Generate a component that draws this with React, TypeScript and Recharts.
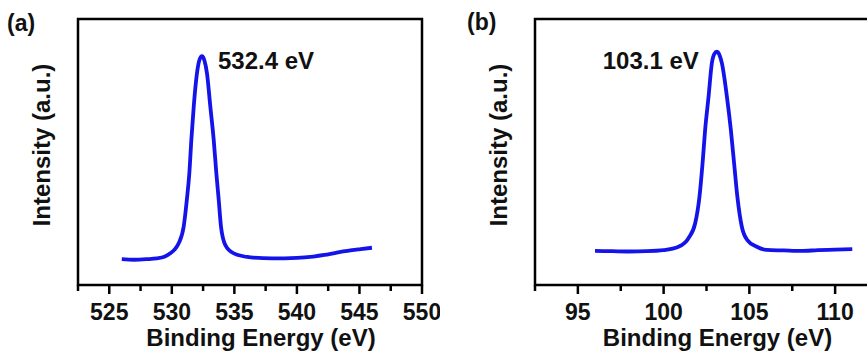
import React from "react";
import {
  LineChart,
  Line,
  XAxis,
  YAxis,
  ReferenceArea,
  ReferenceDot,
  Label,
} from "recharts";

const FONT = "Arial, 'Liberation Sans', sans-serif";
const INK = "#111";
const BLUE = "#1414ea";

// (a) O 1s region
const o1sEnergy = [
  526, 527, 528, 528.8, 529.4, 529.88, 530.25, 530.55, 530.95, 531.2, 531.4,
  531.56, 531.75, 532.01, 532.2, 532.41, 532.6, 532.81, 533.08, 533.35, 533.56,
  533.75, 533.93, 534.28, 534.95, 536.3, 538, 540, 541.3, 542.2, 542.9, 543.7,
  544.4, 545.1, 546,
];
const o1sIntensity = [
  0.097, 0.095, 0.097, 0.1, 0.106, 0.119, 0.135, 0.157, 0.22, 0.32, 0.42,
  0.545, 0.67, 0.796, 0.845, 0.86, 0.845, 0.796, 0.67, 0.545, 0.42,
  0.32, 0.22, 0.15, 0.119, 0.104, 0.1, 0.102, 0.107, 0.113, 0.119, 0.126,
  0.131, 0.135, 0.14,
];
const o1sTicks = [522.5, 525, 527.5, 530, 532.5, 535, 537.5, 540, 542.5, 545, 547.5, 550];

// (b) Si 2p region
const si2pEnergy = [
  96, 97, 98, 99, 100, 100.87, 101.45, 101.84, 102.09, 102.27, 102.42, 102.62,
  102.81, 102.95, 103.1, 103.25, 103.4, 103.69, 103.92, 104.11, 104.3, 104.56,
  104.88, 105.43, 106, 107, 108, 109, 110, 111,
];
const si2pIntensity = [
  0.128, 0.127, 0.126, 0.127, 0.131, 0.144, 0.176, 0.232, 0.332, 0.457, 0.583,
  0.708, 0.833, 0.868, 0.877, 0.866, 0.833, 0.708, 0.583, 0.457, 0.332, 0.219,
  0.169, 0.144, 0.132, 0.13, 0.128, 0.131, 0.133, 0.135,
];
const si2pTicks = [92.5, 95, 97.5, 100, 102.5, 105, 107.5, 110, 112.5];

const toRows = (e: number[], y: number[]) =>
  e.map((energy, i) => ({ energy, intensity: y[i] }));

function EnergyTick(props: any) {
  const { x, y, payload } = props;
  const v = payload.value;
  const major = v % 5 === 0;
  return (
    <g>
      <line x1={x} y1={y} x2={x} y2={y + (major ? 9 : 6)} stroke="#000" strokeWidth={2.5} />
      {major && (
        <text x={x} y={y + 35} textAnchor="middle" fontSize={23} fontWeight="bold" fontFamily={FONT} fill={INK}>
          {v}
        </text>
      )}
    </g>
  );
}

interface PanelProps {
  tag: string;
  energy: number[];
  intensity: number[];
  ticks: number[];
  peak: number;
  peakLabel: string;
  labelSide: "left" | "right";
  width: number;
  yAxisWidth: number;
  rightMargin: number;
}

function XpsPanel({
  tag,
  energy,
  intensity,
  ticks,
  peak,
  peakLabel,
  labelSide,
  width,
  yAxisWidth,
  rightMargin,
}: PanelProps) {
  const data = toRows(energy, intensity);
  const xMin = ticks[0];
  const xMax = ticks[ticks.length - 1];
  const peakY = Math.max(...intensity);

  return (
    <LineChart
      width={width}
      height={356}
      data={data}
      margin={{ top: 19, right: rightMargin, bottom: 0, left: 0 }}
    >
      <XAxis
        type="number"
        dataKey="energy"
        domain={[xMin, xMax]}
        ticks={ticks}
        interval={0}
        tick={<EnergyTick />}
        tickLine={false}
        axisLine={false}
        tickSize={0}
        tickMargin={0}
        height={71}
      >
        <Label
          content={(p: any) => (
            <text
              x={p.viewBox.x + p.viewBox.width / 2 + 11}
              y={p.viewBox.y + 61}
              textAnchor="middle"
              fontSize={24}
              fontWeight="bold"
              fontFamily={FONT}
              fill={INK}
            >
              Binding Energy (eV)
            </text>
          )}
        />
      </XAxis>
      <YAxis
        domain={[0, 1]}
        tick={false}
        tickLine={false}
        axisLine={false}
        width={yAxisWidth}
      >
        <Label
          content={(p: any) => {
            const cx = p.viewBox.x + p.viewBox.width - 37;
            return (
              <g>
                <text
                  transform={`translate(${cx}, 145) rotate(-90)`}
                  textAnchor="middle"
                  dy="0.36em"
                  fontSize={24}
                  fontWeight="bold"
                  fontFamily={FONT}
                  fill={INK}
                >
                  Intensity (a.u.)
                </text>
                <text
                  x={p.viewBox.x + p.viewBox.width - (tag === "(a)" ? 71 : 68)}
                  y={tag === "(a)" ? 31 : 30}
                  fontSize={23}
                  fontWeight="bold"
                  fontFamily={FONT}
                  fill={INK}
                >
                  {tag}
                </text>
              </g>
            );
          }}
        />
      </YAxis>
      <ReferenceArea
        x1={xMin}
        x2={xMax}
        y1={0}
        y2={1}
        fill="none"
        fillOpacity={0}
        stroke="#000"
        strokeWidth={2.5}
        ifOverflow="visible"
      />
      <Line
        type="monotone"
        dataKey="intensity"
        stroke={BLUE}
        strokeWidth={3.8}
        dot={false}
        isAnimationActive={false}
      />
      <ReferenceDot
        x={peak}
        y={peakY}
        r={0}
        fill="none"
        stroke="none"
        label={{
          content: (p: any) => (
            <text
              x={labelSide === "right" ? p.viewBox.x + 16 : p.viewBox.x - 18}
              y={labelSide === "right" ? p.viewBox.y + 13 : p.viewBox.y + 17}
              textAnchor={labelSide === "right" ? "start" : "end"}
              fontSize={24}
              fontWeight="bold"
              fontFamily={FONT}
              fill={INK}
            >
              {peakLabel}
            </text>
          ),
        }}
      />
    </LineChart>
  );
}

export default function App() {
  return (
    <div
      style={{
        position: "absolute",
        left: 0,
        top: 0,
        width: 867,
        height: 356,
        overflow: "hidden",
        background: "#fff",
      }}
    >
      <div style={{ position: "absolute", left: 0, top: 0 }}>
        <XpsPanel
          tag="(a)"
          energy={o1sEnergy}
          intensity={o1sIntensity}
          ticks={o1sTicks}
          peak={532.41}
          peakLabel="532.4 eV"
          labelSide="right"
          width={440}
          yAxisWidth={78}
          rightMargin={18}
        />
      </div>
      <div style={{ position: "absolute", left: 440, top: 0 }}>
        <XpsPanel
          tag="(b)"
          energy={si2pEnergy}
          intensity={si2pIntensity}
          ticks={si2pTicks}
          peak={103.1}
          peakLabel="103.1 eV"
          labelSide="left"
          width={450}
          yAxisWidth={95}
          rightMargin={12}
        />
      </div>
    </div>
  );
}
